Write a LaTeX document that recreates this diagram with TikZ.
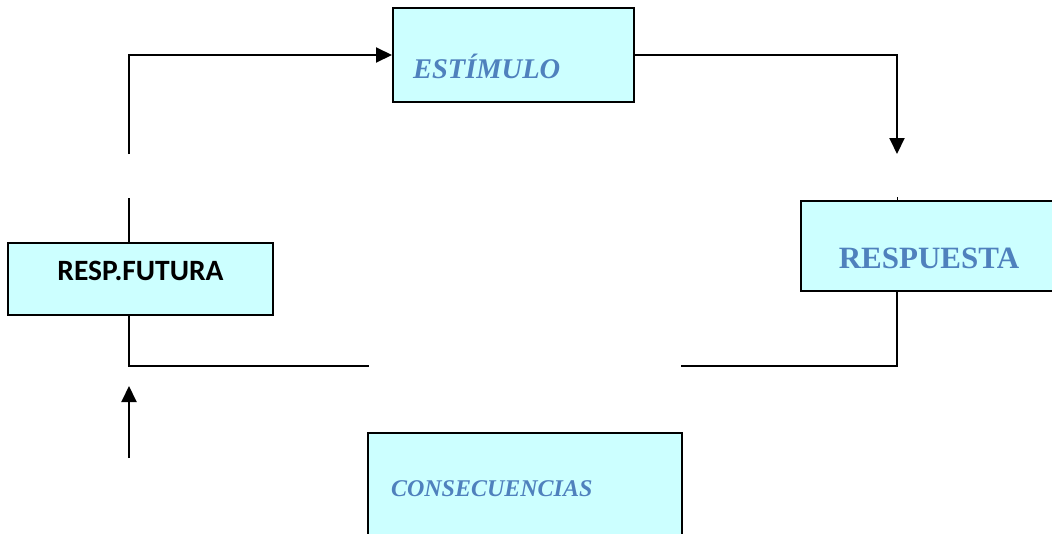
\documentclass[tikz,border=0pt]{standalone}
\usepackage{fontspec}
\usetikzlibrary{arrows.meta}
\newfontfamily\tnrfont{Liberation Serif}
\newfontfamily\calfont{Carlito}
\definecolor{boxfill}{HTML}{CCFFFF}
\definecolor{txtblue}{HTML}{4F81BD}
\tikzset{
  box/.style={draw=black, line width=2pt, fill=boxfill, rectangle, inner sep=0pt},
  lbl/.style={inner sep=0pt, outer sep=0pt},
  conn/.style={line width=2pt, draw=black},
  arr/.style={conn, -{Triangle[length=16pt,width=15pt]}}
}
\begin{document}
\begin{tikzpicture}[x=1pt,y=-1pt]
\useasboundingbox (0,0) rectangle (1052,533);
\clip (0,0) rectangle (1052,533);
% boxes
\node[box, minimum width=241pt, minimum height=94pt] (est) at (513.5,55) {};
\node[box, minimum width=265pt, minimum height=72pt] (fut) at (140.5,279) {};
\node[box, minimum width=259pt, minimum height=90pt] (resp) at (930.5,246) {};
\node[box, minimum width=314pt, minimum height=112pt] (cons) at (525,489) {};
% texts
\node[lbl, anchor=base west, text=txtblue] (testtxt) at (413,78) {\fontsize{28.5}{30}\tnrfont\bfseries\itshape ESTÍMULO};
\node[lbl, anchor=base, text=black] (tfut) at (140.5,280.5) {\fontsize{29.5}{30}\calfont\bfseries RESP.FUTURA};
\node[lbl, anchor=base, text=txtblue] (tresp) at (929,268) {\fontsize{31}{32}\tnrfont\bfseries RESPUESTA};
\node[lbl, anchor=base west, text=txtblue] (tcons) at (391,496.5) {\fontsize{24}{25}\tnrfont\bfseries\itshape CONSECUENCIAS};
% coordinates
\coordinate (futtop) at (129,243);
\coordinate (gapbot) at (129,198);
\coordinate (gaptop) at (129,154);
\coordinate (futbot) at (129,315);
\coordinate (leftend) at (369,366);
\coordinate (upstart) at (129,458);
\coordinate (uptip) at (129,386);
\coordinate (resptop) at (897,201);
\coordinate (tick) at (897,197);
\coordinate (downtip) at (897,154);
\coordinate (respbot) at (897,291);
\coordinate (rightend) at (681,366);
% connectors
\draw[conn] (futtop) -- (gapbot);
\draw[arr] (gaptop) |- (est.west);
\draw[arr] (est.east) -| (downtip);
\draw[line width=1pt] (tick) -- (resptop);
\draw[conn] (futbot) |- (leftend);
\draw[conn] (respbot) |- (rightend);
\draw[arr] (upstart) -- (uptip);
\end{tikzpicture}
\end{document}
